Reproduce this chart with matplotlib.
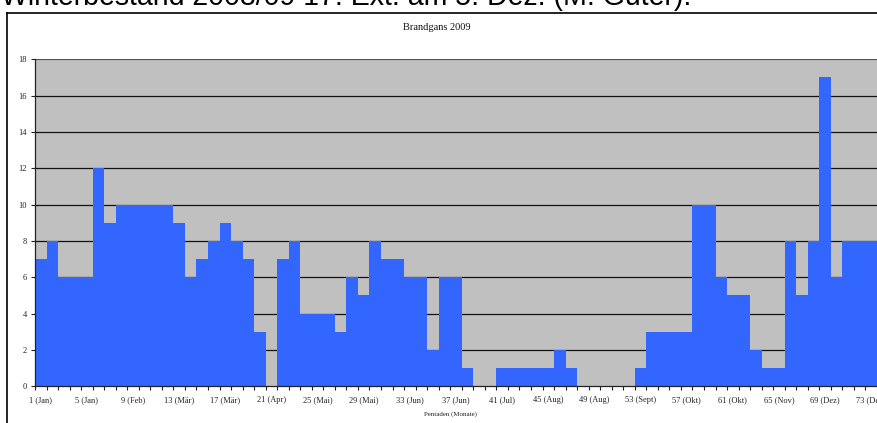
import matplotlib
matplotlib.use("Agg")
import matplotlib.pyplot as plt
from matplotlib.lines import Line2D
import numpy as np

# ---- data ----
pentads = list(range(1, 74))
counts = [7, 8, 6, 6, 6, 12, 9, 10, 10, 10, 10, 10, 9, 6, 7, 8, 9, 8, 7, 3,
          0, 7, 8, 4, 4, 4, 3, 6, 5, 8, 7, 7, 6, 6, 2, 6, 6, 1, 0, 0,
          1, 1, 1, 1, 1, 2, 1, 0, 0, 0, 0, 0, 1, 3, 3, 3, 3, 10, 10, 6,
          5, 5, 2, 1, 1, 8, 5, 8, 17, 6, 8, 8, 8]
tick_pentads = [1, 5, 9, 13, 17, 21, 25, 29, 33, 37, 41, 45, 49, 53, 57, 61, 65, 69, 73]
tick_labels = ["1 (Jan)", "5 (Jan)", "9 (Feb)", "13 (Mär)", "17 (Mär)", "21 (Apr)",
               "25 (Mai)", "29 (Mai)", "33 (Jun)", "37 (Jun)", "41 (Jul)", "45 (Aug)",
               "49 (Aug)", "53 (Sept)", "57 (Okt)", "61 (Okt)", "65 (Nov)", "69 (Dez)",
               "73 (Dez)"]
y_ticks = [0, 2, 4, 6, 8, 10, 12, 14, 16, 18]
chart_title = "Brandgans 2009"
x_label = "Pentaden (Monate)"
page_text = "Winterbestand 2008/09 17. Ext. am 5. Dez. (M. Guter):"

W, H = 877, 423
fig = plt.figure(figsize=(W / 100, H / 100), dpi=100)
fig.patch.set_facecolor("white")

serif = ["Liberation Serif", "DejaVu Serif"]

# plot area in pixels
left_px, right_px, top_px, bot_px = 35, 877, 59.3, 386.3
ax = fig.add_axes([left_px / W, (H - bot_px) / H, (right_px - left_px) / W, (bot_px - top_px) / H])
ax.set_facecolor("#C0C0C0")

ax.bar(pentads, counts, width=1.0, color="#3366FF", edgecolor="none", zorder=3)

ax.set_xlim(0.5, 73.5)
ax.set_ylim(0, 18)
ax.set_yticks(y_ticks)
ax.set_yticklabels([str(v) for v in y_ticks], fontfamily=serif, fontsize=6, color="#222222")
for v in y_ticks[1:]:
    ax.axhline(v, color="#111111" if v < 18 else "#555555", linewidth=0.9, zorder=1)

ax.set_xticks(tick_pentads)
ax.set_xticklabels(tick_labels, fontfamily=serif, fontsize=6, color="#222222")
ax.set_xticks(np.arange(0.5, 74.0, 1.0), minor=True)
ax.tick_params(axis="x", which="major", length=0, pad=7)
ax.tick_params(axis="x", which="minor", length=3, width=0.8, color="#222222", direction="out")
ax.tick_params(axis="y", which="major", length=3, width=0.8, color="#222222", direction="out", pad=3)

for s in ["top", "right"]:
    ax.spines[s].set_visible(False)
ax.spines["left"].set_color("#222222")
ax.spines["left"].set_linewidth(0.9)
ax.spines["bottom"].set_color("#222222")
ax.spines["bottom"].set_linewidth(0.9)
ax.spines["left"].set_zorder(4)
ax.spines["bottom"].set_zorder(4)

fig.text(437 / W, 1 - 28 / H, chart_title, fontfamily=serif, fontsize=7.5,
         ha="center", va="center", color="#111111")
fig.text(450 / W, 1 - 414 / H, x_label, fontfamily=serif, fontsize=5,
         ha="center", va="center", color="#222222")

# outer chart border (cropped at right and bottom)
fig.add_artist(Line2D([7 / W, 7 / W], [-0.1, 1 - 13 / H], color="black", linewidth=1.2,
                      transform=fig.transFigure))
fig.add_artist(Line2D([7 / W, 1.1], [1 - 13 / H, 1 - 13 / H], color="black", linewidth=1.2,
                      transform=fig.transFigure))

# cropped page text above the chart
t = fig.text(1 / W, 1 - 5 / H, page_text, fontfamily=["Liberation Sans", "DejaVu Sans"],
             fontsize=19, ha="left", va="baseline", color="black")
fig.canvas.draw()
bb = t.get_window_extent()
t.set_fontsize(19 * 692 / bb.width)

fig.savefig("out.png", dpi=100)
